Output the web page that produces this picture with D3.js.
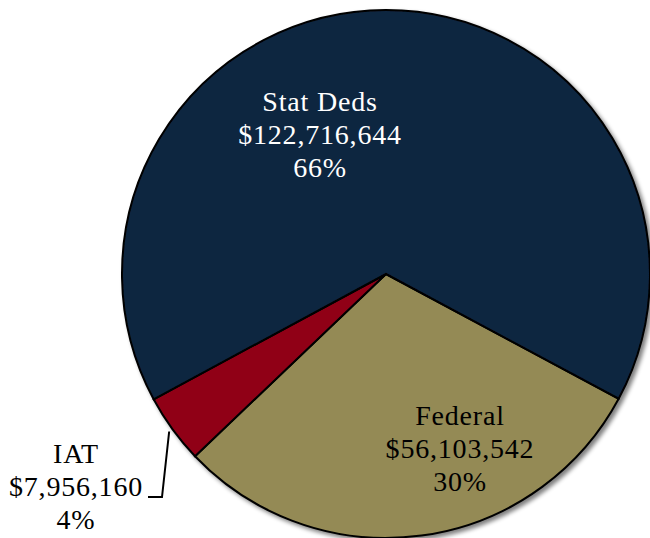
<!DOCTYPE html>
<html><head><meta charset="utf-8">
<script src="https://cdn.jsdelivr.net/npm/d3@7"></script>
<style>body{margin:0;background:#fff}svg{display:block}</style>
</head><body>
<svg id="c" width="650" height="538"></svg>
<script>
const categories = ["Federal", "IAT", "Stat Deds"];
const values = [56103542, 7956160, 122716644];
const amountLabels = ["$56,103,542", "$7,956,160", "$122,716,644"];
const pctLabels = ["30%", "4%", "66%"];
const colors = ["#948A54", "#900018", "#10253F"];
const textColors = ["#000", "#000", "#fff"];

const svg = d3.select("#c");
const cx = 386, cy = 274, r = 264;
const startDeg = 118.2;
const pie = d3.pie().sort(null).value(d => d)
  .startAngle(startDeg * Math.PI / 180)
  .endAngle((startDeg + 360) * Math.PI / 180);
const arcs = pie(values);
const arc = d3.arc().innerRadius(0).outerRadius(r);

const defs = svg.append("defs");
const f = defs.append("filter").attr("id", "sh").attr("x", "-10%").attr("y", "-10%").attr("width", "130%").attr("height", "130%");
f.append("feGaussianBlur").attr("in", "SourceAlpha").attr("stdDeviation", 2);
f.append("feOffset").attr("dx", 3).attr("dy", 3).attr("result", "o");
f.append("feComponentTransfer").append("feFuncA").attr("type", "linear").attr("slope", 0.5);
const m = f.append("feMerge");
m.append("feMergeNode");
m.append("feMergeNode").attr("in", "SourceGraphic");

const g = svg.append("g").attr("transform", `translate(${cx},${cy})`);
g.append("g").attr("filter", "url(#sh)").selectAll("path").data(arcs).join("path")
  .attr("d", arc).attr("fill", (d, i) => colors[i])
  .attr("stroke", "#000").attr("stroke-width", 2).attr("stroke-linejoin", "miter");

// labels
const labelPos = [[460, 415], [76, 453], [320, 101]];
const lh = 33;
arcs.forEach((d, i) => {
  const t = svg.append("text")
    .attr("font-family", "Liberation Serif, DejaVu Serif, serif")
    .attr("font-size", 28).attr("letter-spacing", 0.8).attr("fill", textColors[i])
    .attr("text-anchor", "middle");
  [categories[i], amountLabels[i], pctLabels[i]].forEach((s, k) => {
    t.append("tspan").attr("x", labelPos[i][0]).attr("y", labelPos[i][1] + k * lh)
      .attr("dy", "0.35em").text(s);
  });
});

// leader line for IAT
const iat = arcs[1];
const mid = (iat.startAngle + iat.endAngle) / 2;
const p0 = [cx + Math.sin(mid) * (r + 4), cy - Math.cos(mid) * (r + 4)];
svg.append("path")
  .attr("d", d3.line()([[p0[0], p0[1]], [162, 497], [148, 497]]))
  .attr("fill", "none").attr("stroke", "#000").attr("stroke-width", 2);
</script>
</body></html>
